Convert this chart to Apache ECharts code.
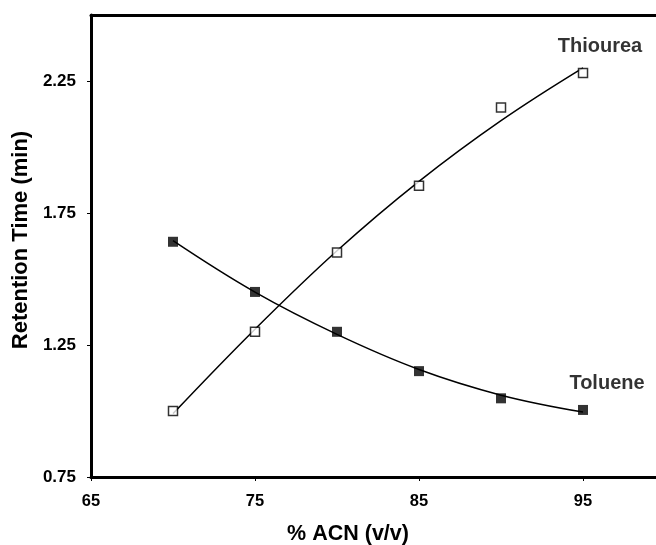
<!DOCTYPE html>
<html>
<head>
<meta charset="utf-8">
<script src="https://cdn.jsdelivr.net/npm/echarts@6/dist/echarts.min.js"></script>
<style>
  html, body { margin: 0; padding: 0; background: #fff; }
  #chart { width: 656px; height: 545px; }
</style>
</head>
<body>
<div id="chart"></div>
<script>
// % ACN (v/v)
const acn = [70, 75, 80, 85, 90, 95];

// measured retention times (min)
const thioureaPoints = [1.00, 1.30, 1.60, 1.853, 2.15, 2.28];
const toluenePoints = [1.641, 1.451, 1.30, 1.151, 1.048, 1.004];

// trend lines
const thioureaTrend = [0.99, 1.31, 1.607, 1.87, 2.10, 2.30];
const tolueneTrend = [1.645, 1.45, 1.29, 1.157, 1.06, 0.996];

const yTicks = [0.75, 1.25, 1.75, 2.25];
const xTicks = [65, 75, 85, 95];

const font = 'Liberation Sans, Arial, sans-serif';

function pairs(xs, ys) {
    return xs.map((x, i) => [x, ys[i]]);
}

function lastLabel(text) {
    return (params) => params.dataIndex === acn.length - 1 ? text : '';
}

const chart = echarts.init(document.getElementById('chart'));

// the original figure is cut off at the right, so the x range stops short of 100
chart.setOption({
    animation: false,
    grid: { left: 91, top: 15, right: 0, bottom: 68, outerBoundsMode: 'none', containLabel: false },
    xAxis: [{
        type: 'value',
        min: 65, max: 99.45, interval: 10,
        name: '% ACN (v/v)',
        nameLocation: 'middle',
        nameGap: 46,
        nameTextStyle: { fontFamily: font, fontWeight: 'bold', fontSize: 21.5, color: '#000', padding: [0, 51, 0, 0] },
        axisLine: { lineStyle: { color: '#000', width: 3 } },
        axisTick: { length: 4, lineStyle: { color: '#000', width: 1 }, customValues: xTicks },
        axisLabel: { customValues: xTicks, margin: 16, fontFamily: font, fontWeight: 'bold', fontSize: 16.5, color: '#000' },
        splitLine: { show: false }
    }, {
        // top frame line
        type: 'value',
        position: 'top',
        min: 65, max: 99.45,
        axisLine: { lineStyle: { color: '#000', width: 3 } },
        axisTick: { show: false },
        axisLabel: { show: false },
        splitLine: { show: false }
    }],
    yAxis: {
        type: 'value',
        min: 0.75, max: 2.5, interval: 0.5,
        name: 'Retention Time (min)',
        nameLocation: 'middle',
        nameGap: 58,
        nameTextStyle: { fontFamily: font, fontWeight: 'bold', fontSize: 22, color: '#000', padding: [0, 0, 0, 12] },
        axisLine: { show: true, lineStyle: { color: '#000', width: 3 } },
        axisTick: { show: true, length: 4, lineStyle: { color: '#000', width: 1 }, customValues: yTicks },
        axisLabel: { customValues: yTicks, margin: 15, fontFamily: font, fontWeight: 'bold', fontSize: 17, color: '#000',
            formatter: (v) => v.toFixed(2) },
        splitLine: { show: false }
    },
    series: [
        {
            type: 'line',
            data: pairs(acn, thioureaTrend),
            smooth: 0.4,
            showSymbol: false,
            lineStyle: { color: '#000', width: 1.5 }
        },
        {
            type: 'line',
            data: pairs(acn, tolueneTrend),
            smooth: 0.4,
            showSymbol: false,
            lineStyle: { color: '#000', width: 1.5 }
        },
        {
            type: 'scatter',
            data: pairs(acn, thioureaPoints),
            symbol: 'rect',
            symbolSize: 9,
            itemStyle: { color: '#fff', borderColor: '#000', borderWidth: 1.5 },
            label: {
                show: true, position: 'top', offset: [17, -6],
                formatter: lastLabel('Thiourea'),
                fontFamily: font, fontWeight: 'bold', fontSize: 20, color: '#000'
            },
            z: 5
        },
        {
            type: 'scatter',
            data: pairs(acn, toluenePoints),
            symbol: 'rect',
            symbolSize: 10,
            itemStyle: { color: '#000' },
            label: {
                show: true, position: 'top', offset: [24, -6],
                formatter: lastLabel('Toluene'),
                fontFamily: font, fontWeight: 'bold', fontSize: 20, color: '#000'
            },
            z: 5
        }
    ]
});
</script>
</body>
</html>
